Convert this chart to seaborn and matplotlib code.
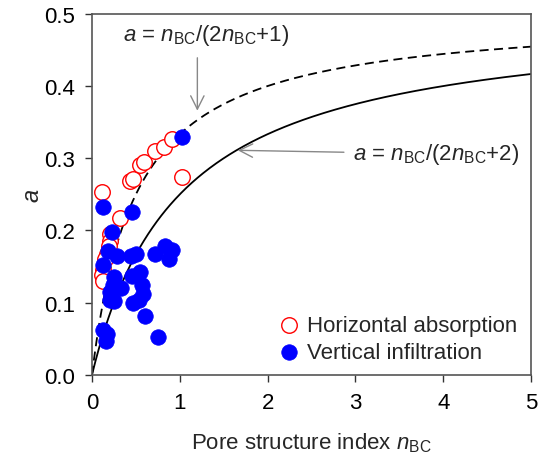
import numpy as np
import pandas as pd
import matplotlib
matplotlib.use("Agg")
import matplotlib.pyplot as plt
import seaborn as sns

# Horizontal absorption (open red circles)
h_n = [0.11, 0.32, 0.43, 0.47, 0.55, 0.59, 0.72, 0.82, 0.91, 1.02,
       0.21, 0.20, 0.19, 0.17, 0.15, 0.12, 0.11, 0.12]
h_a = [0.253, 0.217, 0.268, 0.271, 0.291, 0.295, 0.310, 0.316, 0.326, 0.274,
       0.195, 0.185, 0.178, 0.168, 0.160, 0.145, 0.138, 0.130]

# Vertical infiltration (filled blue circles)
v_n = [0.12, 0.45, 1.03, 0.23, 0.18, 0.28, 0.12, 0.44, 0.50, 0.72,
       0.83, 0.91, 0.88, 0.25, 0.33, 0.20, 0.25, 0.20, 0.45, 0.55,
       0.57, 0.58, 0.47, 0.54, 0.60, 0.12, 0.17, 0.16, 0.75, 0.24]
v_a = [0.233, 0.225, 0.330, 0.198, 0.172, 0.165, 0.152, 0.165, 0.167, 0.167,
       0.179, 0.173, 0.160, 0.135, 0.120, 0.115, 0.102, 0.103, 0.137, 0.142,
       0.124, 0.112, 0.100, 0.103, 0.082, 0.062, 0.057, 0.047, 0.052, 0.125]

x_ticks = [0, 1, 2, 3, 4, 5]
y_ticks = [0.0, 0.1, 0.2, 0.3, 0.4, 0.5]

sns.set_style("white")
plt.rcParams['font.family'] = ['Liberation Sans', 'DejaVu Sans']
plt.rcParams['mathtext.fontset'] = 'custom'
plt.rcParams['mathtext.rm'] = 'Liberation Sans'
plt.rcParams['mathtext.it'] = 'Liberation Sans:italic'

fig = plt.figure(figsize=(5.46, 4.64), dpi=100)
ax = fig.add_axes([0.1685, 0.19, 0.804, 0.778])

# model curves
n_curve = np.linspace(0, 5, 400)
curves = pd.DataFrame({
    "n": n_curve,
    "a1": n_curve / (2 * n_curve + 1),
    "a2": n_curve / (2 * n_curve + 2),
})
sns.lineplot(data=curves, x="n", y="a1", ax=ax, color="black", lw=1.3,
             linestyle=(0, (5, 3)), legend=False)
sns.lineplot(data=curves, x="n", y="a2", ax=ax, color="black", lw=1.3,
             legend=False)

dh = pd.DataFrame({"n": h_n, "a": h_a})
dv = pd.DataFrame({"n": v_n, "a": v_a})
sns.scatterplot(data=dh, x="n", y="a", ax=ax, s=125, facecolor="white",
                edgecolor="red", linewidth=1.0, label="Horizontal absorption", zorder=3)
sns.scatterplot(data=dv, x="n", y="a", ax=ax, s=125, color="#0000ff",
                edgecolor="#0000ff", linewidth=0.5, label="Vertical infiltration", zorder=4)

ax.set_xlim(0, 5)
ax.set_ylim(0, 0.5)
ax.set_xticks(x_ticks)
ax.set_xticklabels([str(t) for t in x_ticks])
ax.set_yticks(y_ticks)
ax.set_yticklabels([f"{t:.1f}" for t in y_ticks])
ax.tick_params(axis="both", which="both", direction="out", length=5, width=1,
               labelsize=16, colors="#333333", labelcolor="black",
               bottom=True, left=True, top=False, right=False, pad=7)
for sp in ax.spines.values():
    sp.set_color("#555555")
    sp.set_linewidth(1.2)

ax.set_xlabel(r"Pore structure index $n_{\mathrm{BC}}$", fontsize=16, labelpad=13)
ax.set_ylabel(r"$a$", fontsize=17, labelpad=0)

ax.annotate(r"$a$ = $n_{\mathrm{BC}}$/(2$n_{\mathrm{BC}}$+1)", xy=(1.2, 0.362),
            xytext=(0.35, 0.472), fontsize=16, ha="left", va="center")
ax.annotate("", xy=(1.2, 0.362), xytext=(1.2, 0.443),
            arrowprops=dict(arrowstyle="->", color="#888888", lw=1.0,
                            mutation_scale=24))
ax.annotate(r"$a$ = $n_{\mathrm{BC}}$/(2$n_{\mathrm{BC}}$+2)", xy=(1.66, 0.311),
            xytext=(2.97, 0.306), fontsize=16, ha="left", va="center",
            arrowprops=dict(arrowstyle="->", color="#888888", lw=1.0,
                            mutation_scale=24, shrinkA=4, shrinkB=0))

leg = ax.legend(loc="lower right", bbox_to_anchor=(1.0, -0.005), frameon=False,
                fontsize=16, handlelength=1.0, handletextpad=0.35, labelspacing=0.3,
                borderaxespad=0.2, markerscale=1.0)

fig.savefig("out.png", dpi=100)
